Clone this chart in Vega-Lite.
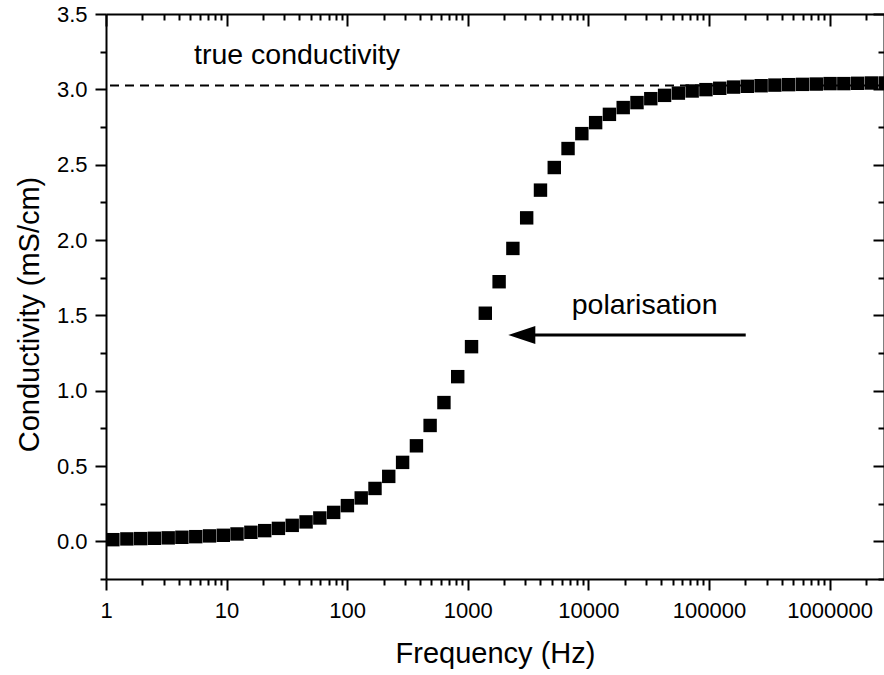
{
  "$schema": "https://vega.github.io/schema/vega-lite/v6.json",
  "autosize": "none",
  "padding": {"left": 106, "top": 14, "right": 0, "bottom": 96},
  "width": 778,
  "height": 565,
  "background": "white",
  "config": {
    "view": {"stroke": null},
    "axis": {
      "labelFont": "Liberation Sans",
      "titleFont": "Liberation Sans",
      "labelFontSize": 22,
      "titleFontSize": 29,
      "titleFontWeight": "normal",
      "labelColor": "black",
      "titleColor": "black",
      "domainColor": "black",
      "tickColor": "black",
      "domainWidth": 2,
      "tickWidth": 2,
      "grid": false,
      "labelFlush": false,
      "labelOverlap": false
    }
  },
  "resolve": {"axis": {"x": "independent", "y": "independent"}},
  "layer": [
    {
      "data": {"values": [
        {"f": 1.14, "s": 0.011}, {"f": 1.49, "s": 0.016}, {"f": 1.94, "s": 0.018}, {"f": 2.52, "s": 0.020},
        {"f": 3.28, "s": 0.023}, {"f": 4.26, "s": 0.027}, {"f": 5.55, "s": 0.031}, {"f": 7.22, "s": 0.036},
        {"f": 9.39, "s": 0.040}, {"f": 12.2, "s": 0.049}, {"f": 15.9, "s": 0.060}, {"f": 20.7, "s": 0.071},
        {"f": 26.9, "s": 0.086}, {"f": 35.0, "s": 0.106}, {"f": 45.6, "s": 0.129}, {"f": 59.3, "s": 0.155},
        {"f": 77.2, "s": 0.192}, {"f": 100.4, "s": 0.237}, {"f": 130.7, "s": 0.288}, {"f": 170, "s": 0.351},
        {"f": 221, "s": 0.431}, {"f": 288, "s": 0.524}, {"f": 375, "s": 0.634}, {"f": 487, "s": 0.769},
        {"f": 634, "s": 0.921}, {"f": 825, "s": 1.093}, {"f": 1074, "s": 1.292}, {"f": 1397, "s": 1.514},
        {"f": 1818, "s": 1.723}, {"f": 2365, "s": 1.944}, {"f": 3077, "s": 2.147}, {"f": 4005, "s": 2.331},
        {"f": 5211, "s": 2.481}, {"f": 6779, "s": 2.607}, {"f": 8823, "s": 2.706}, {"f": 11478, "s": 2.779},
        {"f": 14937, "s": 2.834}, {"f": 19437, "s": 2.879}, {"f": 25288, "s": 2.912}, {"f": 32912, "s": 2.938},
        {"f": 42819, "s": 2.960}, {"f": 55719, "s": 2.975}, {"f": 72494, "s": 2.989}, {"f": 94324, "s": 2.998},
        {"f": 122744, "s": 3.007}, {"f": 159699, "s": 3.015}, {"f": 207828, "s": 3.020}, {"f": 270396, "s": 3.024},
        {"f": 351808, "s": 3.028}, {"f": 457878, "s": 3.031}, {"f": 595662, "s": 3.033}, {"f": 775181, "s": 3.035},
        {"f": 1008556, "s": 3.038}, {"f": 1312204, "s": 3.038}, {"f": 1707719, "s": 3.040}, {"f": 2222000, "s": 3.042},
        {"f": 2891000, "s": 3.042}
      ]},
      "mark": {"type": "point", "shape": "square", "filled": true, "size": 180, "color": "black", "opacity": 1},
      "encoding": {
        "x": {"field": "f", "type": "quantitative",
          "scale": {"type": "log", "domain": [1, 2825000], "nice": false},
          "axis": {"orient": "bottom", "title": "Frequency (Hz)", "values": [1, 10, 100, 1000, 10000, 100000, 1000000],
            "format": ".0f", "tickSize": 11, "labelPadding": 10, "titlePadding": 18}},
        "y": {"field": "s", "type": "quantitative",
          "scale": {"domain": [-0.25, 3.5], "nice": false, "zero": false},
          "axis": {"orient": "left", "title": "Conductivity (mS/cm)", "values": [0, 0.5, 1, 1.5, 2, 2.5, 3, 3.5],
            "format": ".1f", "tickSize": 11, "labelPadding": 8, "titlePadding": 12, "titleY": 300}}
      }
    },
    {
      "data": {"values": [{"v": 3.025}]},
      "mark": {"type": "rule", "color": "black", "strokeWidth": 2, "strokeDash": [9, 6]},
      "encoding": {
        "y": {"field": "v", "type": "quantitative", "axis": null}
      }
    },
    {
      "data": {"values": [{"a": 201600, "b": 2981, "s": 1.37}]},
      "mark": {"type": "rule", "color": "black", "strokeWidth": 3},
      "encoding": {
        "x": {"field": "a", "type": "quantitative",
          "axis": {"orient": "bottom", "title": null, "labels": false, "domain": false, "tickSize": 6,
            "values": [2,3,4,5,6,7,8,9,20,30,40,50,60,70,80,90,200,300,400,500,600,700,800,900,2000,3000,4000,5000,6000,7000,8000,9000,20000,30000,40000,50000,60000,70000,80000,90000,200000,300000,400000,500000,600000,700000,800000,900000,2000000]}},
        "x2": {"field": "b"},
        "y": {"field": "s", "type": "quantitative",
          "axis": {"orient": "left", "title": null, "labels": false, "domain": false, "tickSize": 6,
            "values": [-0.25, 0.25, 0.75, 1.25, 1.75, 2.25, 2.75, 3.25]}}
      }
    },
    {
      "data": {"values": [{"f": 2804, "s": 1.37}]},
      "mark": {"type": "point", "shape": "M-1,0L1,-0.667L1,0.667Z", "size": 729, "filled": true, "color": "black", "opacity": 1},
      "encoding": {
        "x": {"field": "f", "type": "quantitative",
          "axis": {"orient": "top", "title": null, "labels": false, "tickSize": -12,
            "values": [1, 10, 100, 1000, 10000, 100000, 1000000]}},
        "y": {"field": "s", "type": "quantitative",
          "axis": {"orient": "right", "title": null, "labels": false, "tickSize": -11,
            "values": [0, 0.5, 1, 1.5, 2, 2.5, 3, 3.5]}}
      }
    },
    {
      "data": {"values": [{"f": 5.37, "s": 3.17, "t": "true conductivity"}, {"f": 7273, "s": 1.51, "t": "polarisation"}]},
      "mark": {"type": "text", "align": "left", "baseline": "alphabetic", "font": "Liberation Sans", "fontSize": 28.5, "color": "black"},
      "encoding": {
        "x": {"field": "f", "type": "quantitative",
          "axis": {"orient": "top", "title": null, "labels": false, "domain": false, "tickSize": -6,
            "values": [2,3,4,5,6,7,8,9,20,30,40,50,60,70,80,90,200,300,400,500,600,700,800,900,2000,3000,4000,5000,6000,7000,8000,9000,20000,30000,40000,50000,60000,70000,80000,90000,200000,300000,400000,500000,600000,700000,800000,900000,2000000]}},
        "y": {"field": "s", "type": "quantitative",
          "axis": {"orient": "right", "title": null, "labels": false, "domain": false, "tickSize": -6,
            "values": [-0.25, 0.25, 0.75, 1.25, 1.75, 2.25, 2.75, 3.25]}},
        "text": {"field": "t"}
      }
    }
  ]
}
